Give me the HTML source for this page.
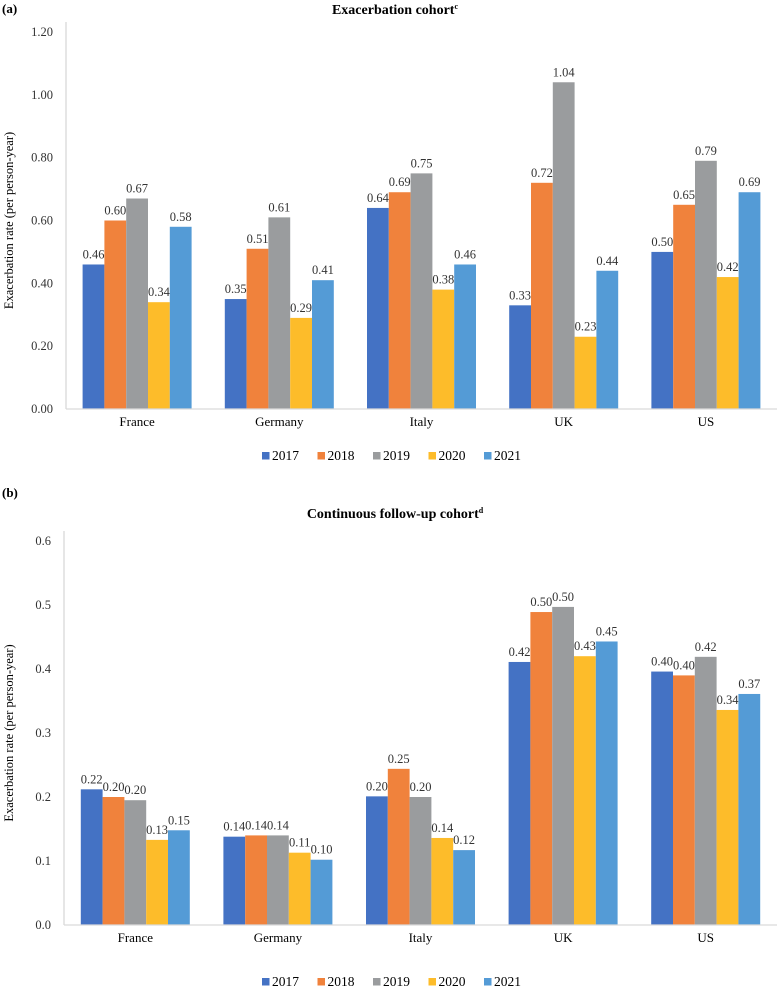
<!DOCTYPE html>
<html><head><meta charset="utf-8"><style>
html,body{margin:0;padding:0;background:#fff;}
svg{display:block;font-family:"Liberation Serif",serif;}
</style></head><body>
<svg id="s" width="778" height="991"></svg>
<script>
const categories = ["France","Germany","Italy","UK","US"];
const years = ["2017","2018","2019","2020","2021"];
const colors = ["#4472c4","#f0823c","#9a9c9e","#fdbc2a","#549bd6"];
const aValues = [
  [0.46,0.35,0.64,0.33,0.50],
  [0.60,0.51,0.69,0.72,0.65],
  [0.67,0.61,0.75,1.04,0.79],
  [0.34,0.29,0.38,0.23,0.42],
  [0.58,0.41,0.46,0.44,0.69]
];
const bValues = [
  [0.212,0.138,0.201,0.411,0.396],
  [0.200,0.140,0.244,0.489,0.390],
  [0.195,0.140,0.200,0.497,0.419],
  [0.133,0.113,0.136,0.420,0.336],
  [0.148,0.102,0.117,0.443,0.361]
];
const aTicks = ["0.00","0.20","0.40","0.60","0.80","1.00","1.20"];
const bTicks = ["0.0","0.1","0.2","0.3","0.4","0.5","0.6"];
const bLabels = [
  ["0.22","0.14","0.20","0.42","0.40"],
  ["0.20","0.14","0.25","0.50","0.40"],
  ["0.20","0.14","0.20","0.50","0.42"],
  ["0.13","0.11","0.14","0.43","0.34"],
  ["0.15","0.10","0.12","0.45","0.37"]
];
const NS="http://www.w3.org/2000/svg";
const svg=document.getElementById('s');
function mk(tag,attrs,parent,text){const e=document.createElementNS(NS,tag);for(const k in attrs)e.setAttribute(k,attrs[k]);if(text!==undefined)e.textContent=text;(parent||svg).appendChild(e);return e;}

function chart(cfg){
  const g=mk('g',{});
  
  
  const x0=cfg.x0,x1=cfg.x1,y0=cfg.y0,ytop=cfg.ytop,maxV=cfg.max;
  const yS=v=>y0-(v/maxV)*(y0-ytop);
  const cw=(x1-x0)/categories.length;
  const bw=21.8;
  const pl=mk('text',{x:2,y:cfg.panelY,'font-size':13,'font-weight':'bold'},g,cfg.panel);
  
  
  const t=mk('text',{x:395,y:cfg.titleY,'font-size':14,'font-weight':'bold','text-anchor':'middle'},g,cfg.title);
  
  
  mk('tspan',{'font-size':8,dy:-5},t,cfg.sup);
  cfg.ticks.forEach((lb,i)=>{
    const v=maxV*i/(cfg.ticks.length-1);
    const tt=mk('text',{x:cfg.x0-13,y:yS(v)+4,'font-size':12.5,'text-anchor':'end',fill:'#333'},g,lb);
    
    
  });
  const yt=mk('text',{x:0,y:0,'font-size':12.5,'text-anchor':'middle',transform:`translate(13,${(y0+ytop)/2}) rotate(-90)`},g,'Exacerbation rate (per person-year)');
  
  
  categories.forEach((c,ci)=>{
    const cx=x0+cw*(ci+0.5);
    const start=cx-bw*years.length/2;
    years.forEach((yr,si)=>{
      const v=cfg.vals[si][ci];
      const r=mk('rect',{x:start+si*bw,y:yS(v),width:bw,height:y0-yS(v),fill:colors[si]},g);
      
      
      const lbl=cfg.labels?cfg.labels[si][ci]:v.toFixed(2);
      const tx=mk('text',{x:start+si*bw+bw/2,y:yS(v)-6,'font-size':12.5,'text-anchor':'middle',fill:'#333'},g,lbl);
      
      
    });
    const xl=mk('text',{x:cx,y:y0+17,'font-size':13,'text-anchor':'middle'},g,c);
    
    
  });
  const ax=mk('line',{x1:x0,y1:ytop-10,x2:x0,y2:y0,stroke:'#d9d9d9','stroke-width':1.3},g);
  
  
  const bx=mk('line',{x1:x0,y1:y0,x2:x1,y2:y0,stroke:'#d9d9d9','stroke-width':1.3},g);
  
  
  const lg=mk('g',{},g);
  
  
  years.forEach((yr,i)=>{
    const lx=cfg.legX+i*55.5;
    const e=mk('g',{},lg);
    
    
    mk('rect',{x:lx,y:cfg.legY-8,width:7.5,height:7.5,fill:colors[i]},e);
    mk('text',{x:lx+10,y:cfg.legY,'font-size':13.5},e,yr);
  });
}
chart({name:'exacerbation-cohort-chart',panel:'(a)',panelY:13,title:'Exacerbation cohort',sup:'c',titleY:14,
  x0:66,x1:777,y0:409,ytop:32,max:1.2,ticks:aTicks,vals:aValues,legX:262,legY:460});
chart({name:'continuous-followup-chart',panel:'(b)',panelY:497,title:'Continuous follow-up cohort',sup:'d',titleY:518,
  x0:64,x1:777,y0:925,ytop:541,max:0.6,ticks:bTicks,vals:bValues,labels:bLabels,legX:262,legY:986});
</script>
</body></html>
